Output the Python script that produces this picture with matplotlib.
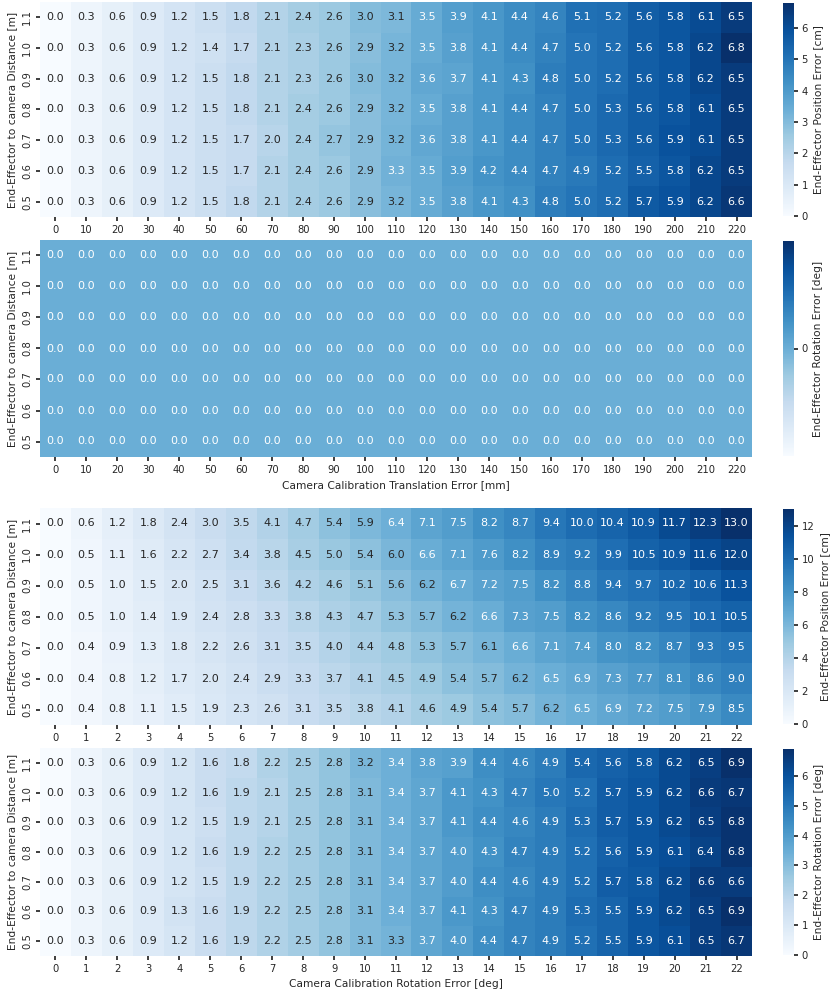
import matplotlib

matplotlib.use("Agg")
import matplotlib.pyplot as plt
import numpy as np
import seaborn as sns

# row labels (top to bottom) and column labels
distances = ["1.1", "1.0", "0.9", "0.8", "0.7", "0.6", "0.5"]
translation_errors = [0, 10, 20, 30, 40, 50, 60, 70, 80, 90, 100, 110,
                      120, 130, 140, 150, 160, 170, 180, 190, 200, 210, 220]
rotation_errors = [0, 1, 2, 3, 4, 5, 6, 7, 8, 9, 10, 11,
                   12, 13, 14, 15, 16, 17, 18, 19, 20, 21, 22]

# position error [cm] vs camera translation error
pos_err_translation = [
    [0.0, 0.3, 0.6, 0.9, 1.2, 1.5, 1.8, 2.1, 2.4, 2.6, 3.0, 3.1, 3.5, 3.9, 4.1, 4.4, 4.6, 5.1, 5.2, 5.6, 5.8, 6.1, 6.5],
    [0.0, 0.3, 0.6, 0.9, 1.2, 1.4, 1.7, 2.1, 2.3, 2.6, 2.9, 3.2, 3.5, 3.8, 4.1, 4.4, 4.7, 5.0, 5.2, 5.6, 5.8, 6.2, 6.8],
    [0.0, 0.3, 0.6, 0.9, 1.2, 1.5, 1.8, 2.1, 2.3, 2.6, 3.0, 3.2, 3.6, 3.7, 4.1, 4.3, 4.8, 5.0, 5.2, 5.6, 5.8, 6.2, 6.5],
    [0.0, 0.3, 0.6, 0.9, 1.2, 1.5, 1.8, 2.1, 2.4, 2.6, 2.9, 3.2, 3.5, 3.8, 4.1, 4.4, 4.7, 5.0, 5.3, 5.6, 5.8, 6.1, 6.5],
    [0.0, 0.3, 0.6, 0.9, 1.2, 1.5, 1.7, 2.0, 2.4, 2.7, 2.9, 3.24, 3.6, 3.8, 4.1, 4.4, 4.7, 5.0, 5.3, 5.6, 5.9, 6.1, 6.5],
    [0.0, 0.3, 0.6, 0.9, 1.2, 1.5, 1.7, 2.1, 2.4, 2.6, 2.9, 3.3, 3.5, 3.9, 4.2, 4.4, 4.7, 4.9, 5.2, 5.5, 5.8, 6.2, 6.5],
    [0.0, 0.3, 0.6, 0.9, 1.2, 1.5, 1.8, 2.1, 2.4, 2.6, 2.9, 3.2, 3.5, 3.8, 4.1, 4.3, 4.8, 5.0, 5.2, 5.7, 5.9, 6.2, 6.6],
]

# rotation error [deg] vs camera translation error: all zero
rot_err_translation = [[0.0] * 23 for _ in distances]

# position error [cm] vs camera rotation error
pos_err_rotation = [
    [0.0, 0.6, 1.2, 1.8, 2.4, 3.0, 3.5, 4.1, 4.7, 5.4, 5.9, 6.4, 7.1, 7.5, 8.2, 8.7, 9.4, 10.0, 10.4, 10.9, 11.7, 12.3, 13.0],
    [0.0, 0.5, 1.1, 1.6, 2.2, 2.7, 3.4, 3.8, 4.5, 5.0, 5.4, 6.0, 6.6, 7.1, 7.6, 8.2, 8.9, 9.2, 9.9, 10.5, 10.9, 11.6, 12.0],
    [0.0, 0.5, 1.0, 1.5, 2.0, 2.5, 3.1, 3.6, 4.2, 4.6, 5.1, 5.6, 6.2, 6.7, 7.2, 7.5, 8.2, 8.8, 9.4, 9.7, 10.2, 10.6, 11.3],
    [0.0, 0.5, 1.0, 1.4, 1.9, 2.4, 2.8, 3.3, 3.8, 4.3, 4.7, 5.3, 5.7, 6.2, 6.6, 7.3, 7.5, 8.2, 8.6, 9.2, 9.5, 10.1, 10.5],
    [0.0, 0.4, 0.9, 1.3, 1.8, 2.2, 2.6, 3.1, 3.5, 4.0, 4.4, 4.8, 5.3, 5.7, 6.1, 6.6, 7.1, 7.4, 8.0, 8.2, 8.7, 9.3, 9.5],
    [0.0, 0.4, 0.8, 1.2, 1.7, 2.0, 2.4, 2.9, 3.3, 3.7, 4.1, 4.5, 4.9, 5.4, 5.7, 6.2, 6.5, 6.9, 7.3, 7.7, 8.1, 8.6, 9.0],
    [0.0, 0.4, 0.8, 1.1, 1.5, 1.9, 2.3, 2.6, 3.1, 3.5, 3.8, 4.1, 4.6, 4.9, 5.4, 5.7, 6.2, 6.5, 6.9, 7.2, 7.5, 7.9, 8.5],
]

# rotation error [deg] vs camera rotation error
rot_err_rotation = [
    [0.0, 0.3, 0.6, 0.9, 1.2, 1.6, 1.8, 2.2, 2.5, 2.8, 3.2, 3.4, 3.8, 3.9, 4.4, 4.6, 4.9, 5.4, 5.6, 5.8, 6.2, 6.5, 6.9],
    [0.0, 0.3, 0.6, 0.9, 1.2, 1.6, 1.9, 2.1, 2.5, 2.8, 3.1, 3.4, 3.7, 4.1, 4.3, 4.7, 5.0, 5.2, 5.7, 5.9, 6.2, 6.6, 6.7],
    [0.0, 0.3, 0.6, 0.9, 1.2, 1.5, 1.9, 2.1, 2.5, 2.8, 3.1, 3.4, 3.7, 4.1, 4.4, 4.6, 4.9, 5.3, 5.7, 5.9, 6.2, 6.5, 6.8],
    [0.0, 0.3, 0.6, 0.9, 1.2, 1.6, 1.9, 2.2, 2.5, 2.8, 3.1, 3.4, 3.7, 4.0, 4.3, 4.7, 4.9, 5.2, 5.6, 5.9, 6.1, 6.4, 6.8],
    [0.0, 0.3, 0.6, 0.9, 1.2, 1.5, 1.9, 2.2, 2.5, 2.8, 3.1, 3.4, 3.7, 4.0, 4.4, 4.6, 4.9, 5.2, 5.7, 5.8, 6.2, 6.6, 6.6],
    [0.0, 0.3, 0.6, 0.9, 1.3, 1.6, 1.9, 2.2, 2.5, 2.8, 3.1, 3.4, 3.7, 4.1, 4.3, 4.7, 4.9, 5.3, 5.5, 5.9, 6.2, 6.5, 6.9],
    [0.0, 0.3, 0.6, 0.9, 1.2, 1.6, 1.9, 2.2, 2.5, 2.8, 3.1, 3.3, 3.7, 4.0, 4.4, 4.7, 4.9, 5.2, 5.5, 5.9, 6.1, 6.5, 6.7],
]

sns.set_theme(style="ticks")
plt.rcParams.update({
    "font.family": ["DejaVu Sans"],
    "font.size": 8,
    "axes.labelsize": 7.7,
    "xtick.labelsize": 7.2,
    "ytick.labelsize": 7.2,
    "xtick.major.size": 3,
    "ytick.major.size": 3,
    "xtick.major.pad": 2.5,
    "ytick.major.pad": 2.5,
})

W, H = 830, 991


def px_axes(fig, x0, y0, x1, y1):
    # pixel box (top-left origin) -> figure axes
    return fig.add_axes([x0 / W, 1 - y1 / H, (x1 - x0) / W, (y1 - y0) / H])


fig = plt.figure(figsize=(W / 100, H / 100), dpi=100)

panels = [
    (pos_err_translation, translation_errors, (2, 217), "End-Effector Position Error [cm]", None, None),
    (rot_err_translation, translation_errors, (240, 457), "End-Effector Rotation Error [deg]",
     "Camera Calibration Translation Error [mm]", [0]),
    (pos_err_rotation, rotation_errors, (508, 725), "End-Effector Position Error [cm]", None, None),
    (rot_err_rotation, rotation_errors, (748, 956), "End-Effector Rotation Error [deg]",
     "Camera Calibration Rotation Error [deg]", None),
]

for values, cols, (top, bottom), cbar_label, xlabel, cticks in panels:
    ax = px_axes(fig, 40, top, 752, bottom)
    cax = px_axes(fig, 783, top + 1, 794, bottom - 1)
    sns.heatmap(
        np.array(values),
        ax=ax,
        cbar_ax=cax,
        cmap="Blues",
        annot=True,
        fmt=".1f",
        xticklabels=cols,
        yticklabels=distances,
        cbar_kws={"label": cbar_label},
    )
    if cticks is not None:
        cax.set_yticks(cticks)
    cax.tick_params(labelsize=7.2)
    ax.set_ylabel("End-Effector to camera Distance [m]")
    ax.tick_params(axis="x", rotation=0)
    if xlabel:
        ax.set_xlabel(xlabel)

plt.savefig("out.png", dpi=100)
